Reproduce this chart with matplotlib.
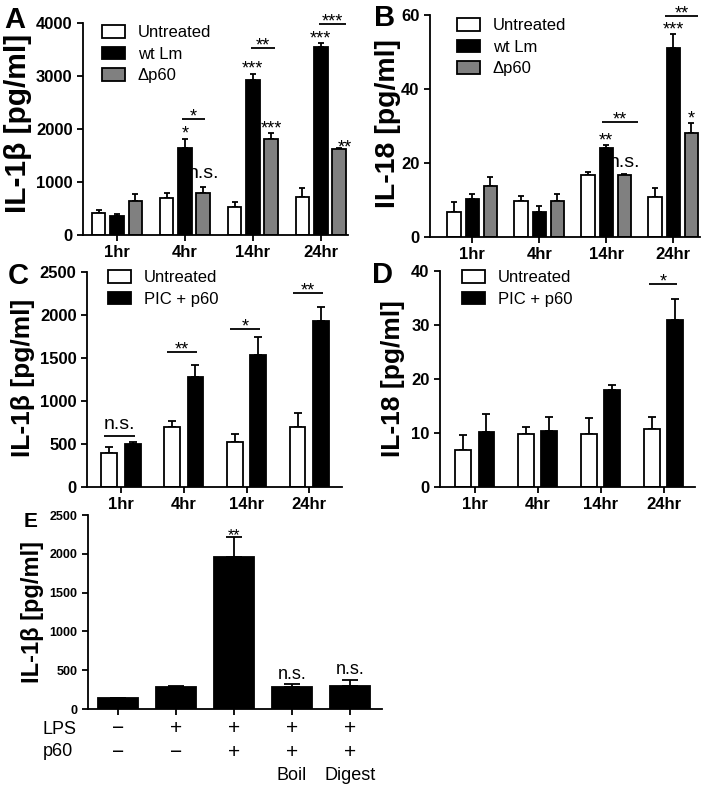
import matplotlib.pyplot as plt
import numpy as np

plt.rcParams['font.family'] = ['Liberation Sans', 'DejaVu Sans']

W, H = 713, 789

hours = ['1hr', '4hr', '14hr', '24hr']

# A: IL-1b after infection
a_unt = [415, 700, 530, 710]
a_unt_err = [55, 90, 95, 170]
a_wt = [358, 1640, 2920, 3550]
a_wt_err = [45, 180, 120, 70]
a_dp60 = [647, 800, 1820, 1620]
a_dp60_err = [120, 110, 100, 20]

# B: IL-18 after infection
b_unt = [6.85, 9.8, 16.8, 10.9]
b_unt_err = [2.7, 1.4, 0.9, 2.3]
b_wt = [10.2, 6.85, 24.0, 51.0]
b_wt_err = [1.4, 1.5, 0.8, 4.0]
b_dp60 = [13.8, 9.8, 16.8, 28.0]
b_dp60_err = [2.5, 1.9, 0.3, 2.8]

# C: IL-1b with PIC + p60
c_unt = [399, 701, 527, 701]
c_unt_err = [70, 66, 89, 163]
c_pic = [496, 1275, 1535, 1934]
c_pic_err = [30, 144, 205, 162]

# D: IL-18 with PIC + p60
d_unt = [6.85, 9.9, 9.9, 10.7]
d_unt_err = [2.75, 1.15, 2.9, 2.3]
d_pic = [10.25, 10.4, 18.0, 30.9]
d_pic_err = [3.2, 2.5, 0.9, 3.85]

# E: LPS priming, p60 treatments
e_vals = [138, 288, 1955, 288, 300]
e_err = [10, 12, 257, 30, 74]
e_lps = ['−', '+', '+', '+', '+']
e_p60 = ['−', '−', '+', '+', '+']
e_extra = ['', '', '', 'Boil', 'Digest']
e_sig = ['', '', '**', 'n.s.', 'n.s.']

GRAY = '#808080'
LW = 1.3

fig = plt.figure(figsize=(W / 100, H / 100), dpi=100)


def panel(x0, x1, ytop, ybot):
    ax = fig.add_axes([x0 / W, 1 - ybot / H, (x1 - x0) / W, (ybot - ytop) / H])
    for s in ['top', 'right']:
        ax.spines[s].set_visible(False)
    for s in ['left', 'bottom']:
        ax.spines[s].set_linewidth(LW)
    ax.tick_params(direction='out', length=4, width=LW)
    return ax


def bars(ax, x, vals, err, color, width, capsize):
    b = ax.bar(x, vals, width, color=color, edgecolor='black', linewidth=LW, zorder=2)
    ax.errorbar(x, vals, yerr=[np.zeros(len(vals)), err], fmt='none', ecolor='black',
                elinewidth=LW, capsize=capsize, capthick=LW, zorder=1)
    return b


def above(ax, x, top, text, size, dy):
    ax.annotate(text, (x, top), xytext=(0, dy), textcoords='offset points',
                ha='center', va='baseline', fontsize=size)


def bracket(ax, xa, xb, y, text, size, dy):
    ax.plot([xa, xb], [y, y], color='black', lw=LW, solid_capstyle='butt', clip_on=False)
    ax.annotate(text, ((xa + xb) / 2, y), xytext=(0, dy), textcoords='offset points',
                ha='center', va='baseline', fontsize=size)


def legend(ax, handles, labels, px, py):
    ax.legend(handles, labels, loc='upper left', bbox_to_anchor=(px / W, 1 - py / H),
              bbox_transform=fig.transFigure, frameon=False, borderpad=0, borderaxespad=0,
              handlelength=1.4, handleheight=0.8, handletextpad=0.75,
              labelspacing=0.38, fontsize=12)


def style_ticks(ax, size):
    for lab in ax.get_xticklabels() + ax.get_yticklabels():
        lab.set_fontweight('bold')
        lab.set_fontsize(size)


x = np.arange(len(hours))

# ---- A ----
ax = panel(83, 348, 23, 235)
off, wd = 0.27, 0.2
h1 = bars(ax, x - off, a_unt, a_unt_err, 'white', wd, 2.5)
h2 = bars(ax, x, a_wt, a_wt_err, 'black', wd, 2.5)
h3 = bars(ax, x + off, a_dp60, a_dp60_err, GRAY, wd, 2.5)
ax.set_xlim(-0.5, 3.4)
ax.set_ylim(0, 4000)
ax.set_yticks([0, 1000, 2000, 3000, 4000])
ax.set_xticks(x, hours)
style_ticks(ax, 12)
legend(ax, [h1, h2, h3], ['Untreated', 'wt Lm', 'Δp60'], 102, 25)
tops_wt = np.add(a_wt, a_wt_err)
tops_dp = np.add(a_dp60, a_dp60_err)
above(ax, 1, tops_wt[1], '*', 13, 0)
above(ax, 1 + off, tops_dp[1], 'n.s.', 14, 6)
above(ax, 2, tops_wt[2], '***', 13, 0)
above(ax, 2 + off, tops_dp[2], '***', 13, 0)
above(ax, 3, tops_wt[3], '***', 13, 0)
above(ax, 3 + off + 0.08, tops_dp[3], '**', 13, -3)
bracket(ax, 1 - 0.05, 1 + off + 0.03, 2190, '*', 13, -2)
bracket(ax, 2 - 0.03, 2 + off + 0.06, 3530, '**', 13, -2)
bracket(ax, 3 - 0.03, 3 + off + 0.1, 3980, '***', 13, -2)
fig.text(18 / W, 1 - 123 / H, 'IL-1β [pg/ml]', rotation=90, ha='center', va='center',
         fontsize=21.5, fontweight='bold')
fig.text(4 / W, 1 - 28 / H, 'A', fontsize=21, fontweight='bold')

# ---- B ----
ax = panel(430, 700, 15, 237)
h1 = bars(ax, x - off, b_unt, b_unt_err, 'white', wd, 2.5)
h2 = bars(ax, x, b_wt, b_wt_err, 'black', wd, 2.5)
h3 = bars(ax, x + off, b_dp60, b_dp60_err, GRAY, wd, 2.5)
ax.set_xlim(-0.63, 3.4)
ax.set_ylim(0, 60)
ax.set_yticks([0, 20, 40, 60])
ax.set_xticks(x, hours)
style_ticks(ax, 12)
legend(ax, [h1, h2, h3], ['Untreated', 'wt Lm', 'Δp60'], 457, 18)
tops_wt = np.add(b_wt, b_wt_err)
tops_dp = np.add(b_dp60, b_dp60_err)
above(ax, 2, tops_wt[2], '**', 13, 0)
above(ax, 2 + off, tops_dp[2], 'n.s.', 14, 5)
above(ax, 3, tops_wt[3], '***', 13, -1)
above(ax, 3 + off, tops_dp[3], '*', 13, 0)
bracket(ax, 2 - 0.06, 2 + off + 0.2, 31.1, '**', 13, -2)
bracket(ax, 3 - 0.12, 3 + off + 0.1, 59.7, '**', 13, -2)
fig.text(388 / W, 1 - 123 / H, 'IL-18 [pg/ml]', rotation=90, ha='center', va='center',
         fontsize=20.5, fontweight='bold')
fig.text(374 / W, 1 - 26 / H, 'B', fontsize=21, fontweight='bold')

# ---- C ----
ax = panel(87, 342, 272, 487)
off2, wd2 = 0.187, 0.25
h1 = bars(ax, x - off2, c_unt, c_unt_err, 'white', wd2, 3)
h2 = bars(ax, x + off2, c_pic, c_pic_err, 'black', wd2, 3)
ax.set_xlim(-0.54, 3.52)
ax.set_ylim(0, 2500)
ax.set_yticks([0, 500, 1000, 1500, 2000, 2500])
ax.set_xticks(x, hours)
style_ticks(ax, 12)
legend(ax, [h1, h2], ['Untreated', 'PIC + p60'], 108, 270)
for g, yv, txt in zip(x, [590, 1570, 1840, 2260], ['n.s.', '**', '*', '**']):
    bracket(ax, g - off2 - 0.08, g + off2 + 0.03, yv, txt, 14 if txt == 'n.s.' else 13,
            5 if txt == 'n.s.' else -2)
fig.text(23 / W, 1 - 378 / H, 'IL-1β [pg/ml]', rotation=90, ha='center', va='center',
         fontsize=19, fontweight='bold')
fig.text(8 / W, 1 - 284 / H, 'C', fontsize=21, fontweight='bold')

# ---- D ----
ax = panel(440, 695, 271, 487)
h1 = bars(ax, x - off2, d_unt, d_unt_err, 'white', wd2, 3)
h2 = bars(ax, x + off2, d_pic, d_pic_err, 'black', wd2, 3)
ax.set_xlim(-0.55, 3.5)
ax.set_ylim(0, 40)
ax.set_yticks([0, 10, 20, 30, 40])
ax.set_xticks(x, hours)
style_ticks(ax, 12)
legend(ax, [h1, h2], ['Untreated', 'PIC + p60'], 462, 270)
bracket(ax, 3 - off2 - 0.05, 3 + off2 + 0.03, 37.6, '*', 13, -2)
fig.text(393 / W, 1 - 379 / H, 'IL-18 [pg/ml]', rotation=90, ha='center', va='center',
         fontsize=19, fontweight='bold')
fig.text(372 / W, 1 - 283 / H, 'D', fontsize=21, fontweight='bold')

# ---- E ----
ax = panel(88, 382, 515, 709)
xe = np.arange(len(e_vals))
bars(ax, xe, e_vals, e_err, 'black', 0.69, 5.5)
ax.set_xlim(-0.52, 4.55)
ax.set_ylim(0, 2500)
ax.set_yticks([0, 500, 1000, 1500, 2000, 2500])
ax.set_xticks(xe, [''] * len(xe))
style_ticks(ax, 9)
for i, txt in enumerate(e_sig):
    if txt:
        above(ax, xe[i], e_vals[i] + e_err[i], txt, 13 if txt == 'n.s.' else 11.5,
              4 if txt == 'n.s.' else -2)
row_kw = dict(transform=ax.get_xaxis_transform(), ha='center', va='center')
for i in xe:
    ax.text(i, -(728 - 709) / 194, e_lps[i], fontsize=15, **row_kw)
    ax.text(i, -(752 - 709) / 194, e_p60[i], fontsize=15, **row_kw)
    if e_extra[i]:
        ax.text(i, -(776 - 709) / 194, e_extra[i], fontsize=13, **row_kw)
fig.text(43 / W, 1 - 729 / H, 'LPS', fontsize=13, va='center')
fig.text(43 / W, 1 - 751 / H, 'p60', fontsize=13, va='center')
fig.text(32 / W, 1 - 612 / H, 'IL-1β [pg/ml]', rotation=90, ha='center', va='center',
         fontsize=17, fontweight='bold')
fig.text(24 / W, 1 - 527 / H, 'E', fontsize=15, fontweight='bold')

fig.savefig('out.png', dpi=100)
